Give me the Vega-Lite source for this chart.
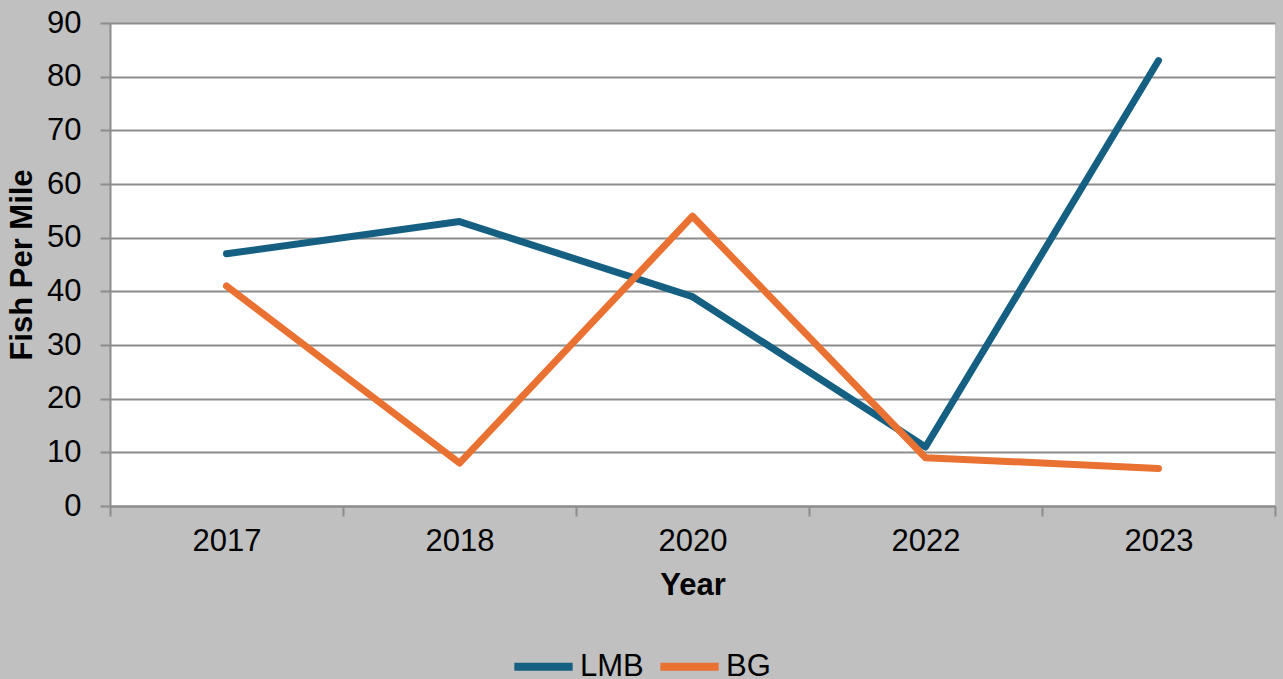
{
  "$schema": "https://vega.github.io/schema/vega-lite/v6.json",
  "autosize": "none",
  "width": 1165,
  "height": 483,
  "padding": {"left": 110, "top": 23, "right": 8, "bottom": 173},
  "background": "#C0C0C0",
  "config": {
    "view": {"fill": "white", "stroke": null},
    "font": "Liberation Sans"
  },
  "data": {
    "values": [
      {"Year": "2017", "Species": "LMB", "Fish": 47},
      {"Year": "2018", "Species": "LMB", "Fish": 53},
      {"Year": "2020", "Species": "LMB", "Fish": 39},
      {"Year": "2022", "Species": "LMB", "Fish": 11},
      {"Year": "2023", "Species": "LMB", "Fish": 83},
      {"Year": "2017", "Species": "BG", "Fish": 41},
      {"Year": "2018", "Species": "BG", "Fish": 8},
      {"Year": "2020", "Species": "BG", "Fish": 54},
      {"Year": "2022", "Species": "BG", "Fish": 9},
      {"Year": "2023", "Species": "BG", "Fish": 7}
    ]
  },
  "mark": {"type": "line", "strokeWidth": 7, "strokeCap": "round", "strokeJoin": "round"},
  "encoding": {
    "x": {
      "field": "Year",
      "type": "ordinal",
      "bandPosition": 0.5,
      "scale": {"type": "band", "paddingInner": 0, "paddingOuter": 0},
      "axis": {
        "title": "Year",
        "titleFont": "Liberation Sans",
        "titleFontSize": 31,
        "titleFontWeight": "bold",
        "titleColor": "black",
        "titlePadding": 14,
        "labelFontSize": 31,
        "labelColor": "black",
        "labelFont": "Liberation Sans",
        "labelAngle": 0,
        "labelPadding": 10,
        "tickBand": "extent",
        "tickSize": 10,
        "tickColor": "#8C8C8C",
        "tickWidth": 2,
        "domainColor": "#8C8C8C",
        "domainWidth": 2,
        "grid": false
      }
    },
    "y": {
      "field": "Fish",
      "type": "quantitative",
      "scale": {"domain": [0, 90]},
      "axis": {
        "title": "Fish Per Mile",
        "titleFont": "Liberation Sans",
        "titleFontSize": 31,
        "titleFontWeight": "bold",
        "titleColor": "black",
        "titleBaseline": "alphabetic",
        "titleX": -79,
        "values": [0, 10, 20, 30, 40, 50, 60, 70, 80, 90],
        "labelFontSize": 31,
        "labelColor": "black",
        "labelFont": "Liberation Sans",
        "labelPadding": 19,
        "tickSize": 10,
        "tickColor": "#8C8C8C",
        "tickWidth": 2,
        "domainColor": "#8C8C8C",
        "domainWidth": 2,
        "grid": true,
        "gridColor": "#8C8C8C",
        "gridWidth": 2
      }
    },
    "color": {
      "field": "Species",
      "type": "nominal",
      "scale": {"domain": ["LMB", "BG"], "range": ["#156082", "#E97132"]},
      "legend": {
        "title": null,
        "orient": "none",
        "direction": "horizontal",
        "legendX": 400,
        "legendY": 610,
        "symbolType": "stroke",
        "symbolSize": 3400,
        "symbolStrokeWidth": 8,
        "labelFontSize": 31,
        "labelColor": "black",
        "labelFont": "Liberation Sans",
        "labelOffset": 3,
        "columnPadding": 0
      }
    }
  }
}
